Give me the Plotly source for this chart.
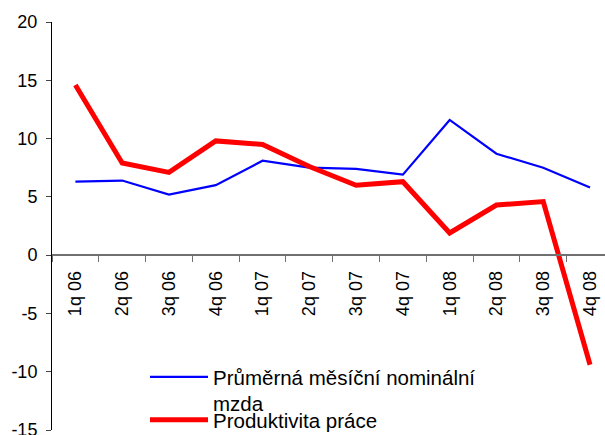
import plotly.graph_objects as go

categories = ["1q 06", "2q 06", "3q 06", "4q 06", "1q 07", "2q 07",
              "3q 07", "4q 07", "1q 08", "2q 08", "3q 08", "4q 08"]
nominal_wage = [6.3, 6.4, 5.2, 6.0, 8.1, 7.5, 7.4, 6.9, 11.6, 8.7, 7.5, 5.8]
productivity = [14.6, 7.9, 7.1, 9.8, 9.5, 7.6, 6.0, 6.3, 1.9, 4.3, 4.6, -9.4]
y_ticks = [-15, -10, -5, 0, 5, 10, 15, 20]
y_tick_labels = ["-15", "-10", "-5", "0", "5", "10", "15", "20"]

# figure is a bit taller than the 435px window; the window crops the rest
W, H = 605, 450
ML, MR, MT, MB = 52, 0, 22, 0
plot_h = H - MT - MB
PLOT_BOTTOM_PX = 430
d0 = (H - MB - PLOT_BOTTOM_PX) / plot_h
ymin, ymax = -15, 20
zero_pos = d0 + (1 - d0) * (0 - ymin) / (ymax - ymin)

def paper_y(px):
    return (H - MB - px) / plot_h

def paper_x(px):
    return (px - ML) / (W - ML - MR)

fig = go.Figure()
fig.add_trace(go.Scatter(x=categories, y=nominal_wage, mode="lines",
                         name="Průměrná měsíční nominální<br>mzda",
                         line=dict(color="#0000FF", width=2.2), legend="legend"))
fig.add_trace(go.Scatter(x=categories, y=productivity, mode="lines",
                         name="Produktivita práce",
                         line=dict(color="#FF0000", width=5), legend="legend2"))

leg_common = dict(bgcolor="rgba(0,0,0,0)", font=dict(size=20.5), itemwidth=58,
                  valign="top", xanchor="left")
fig.update_layout(
    width=W, height=H,
    margin=dict(l=ML, r=MR, t=MT, b=MB),
    paper_bgcolor="white", plot_bgcolor="white",
    font=dict(family="Liberation Sans, Arial, sans-serif", size=18, color="black"),
    showlegend=True,
    legend=dict(x=paper_x(145), y=paper_y(357), yanchor="top", **leg_common),
    legend2=dict(x=paper_x(145), y=paper_y(440), yanchor="bottom", **leg_common),
    xaxis=dict(type="category", range=[-0.5, 11.32], anchor="free",
               position=zero_pos,
               showline=True, linecolor="#707070", linewidth=1.5,
               ticks="outside", ticklen=6, tickcolor="#707070",
               tickson="boundaries", tickangle=-90, showgrid=False,
               zeroline=False, tickfont=dict(size=18), automargin=False,
               ticklabelstandoff=8),
    yaxis=dict(range=[ymin, ymax], domain=[d0, 1], tickvals=y_ticks,
               ticktext=y_tick_labels,
               showline=True, linecolor="black", linewidth=1, ticks="outside",
               ticklen=5, showgrid=False, zeroline=False,
               tickfont=dict(size=18), automargin=False,
               ticklabelstandoff=5, ticklabeloverflow="allow"),
)
fig.write_html("out.html", config={"displayModeBar": False},
               post_script="document.body.style.margin='0px';"
                           "document.body.style.overflow='hidden';")
